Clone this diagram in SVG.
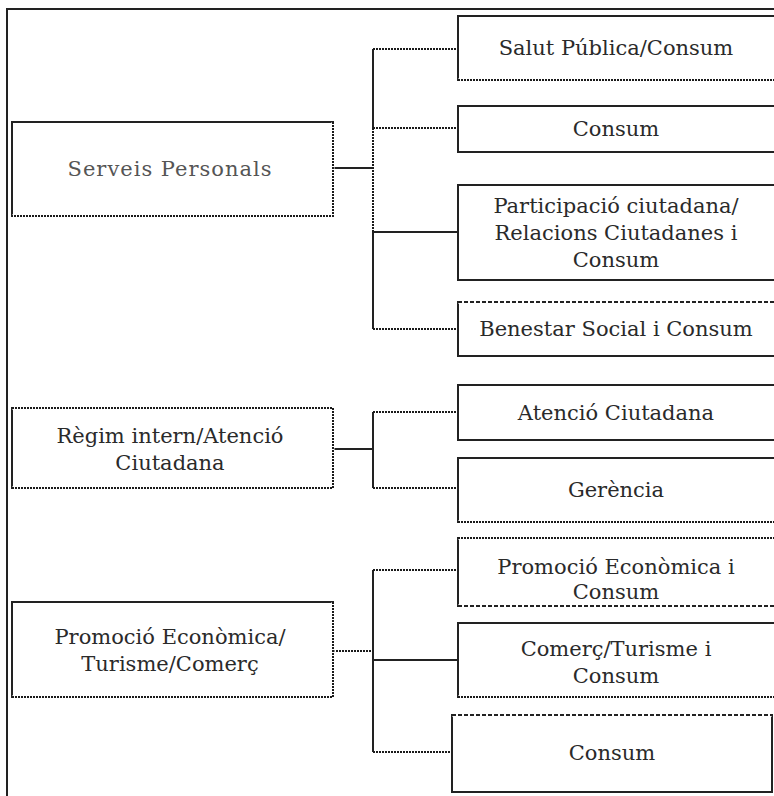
<svg xmlns="http://www.w3.org/2000/svg" width="774" height="796" viewBox="0 0 774 796">
<style>
.box{fill:#fff;stroke:#222;stroke-width:2}
.t{font-family:"DejaVu Serif","Liberation Serif",serif;font-size:21px;fill:#2a2a2a;text-anchor:middle}
.c{fill:none;stroke:#222;stroke-width:2}
.dot{fill:none;stroke:#1a1a1a;stroke-width:2;stroke-dasharray:2 1}
.dash{fill:none;stroke:#222;stroke-width:2;stroke-dasharray:4 2}
.wipe{fill:none;stroke:#fff;stroke-width:3}
</style>
<rect width="774" height="796" fill="#fff"/>
<path class="c" d="M7,796 V9 H774" stroke-width="1.5"/>
<g id="connectors">
<path class="c" d="M333,168 H373"/>
<path class="c" d="M373,49 V128 M373,232 V329"/>
<path class="dot" d="M373,128 V232"/>
<path class="dot" d="M373,49 H458"/>
<path class="dot" d="M373,128 H458" stroke-width="3"/>
<path class="c" d="M373,232 H458"/>
<path class="dot" d="M373,329 H458"/>
<path class="c" d="M333,449 H373"/>
<path class="c" d="M373,412 V488"/>
<path class="dot" d="M373,412 H458"/>
<path class="dot" d="M373,488 H458"/>
<path class="dot" d="M333,651 H373" stroke-width="3"/>
<path class="c" d="M373,570 V752"/>
<path class="dot" d="M373,570 H458" stroke-width="3"/>
<path class="c" d="M373,660 H458"/>
<path class="dot" d="M373,752 H452"/>
</g>
<g id="n-serveis">
<rect class="box" x="12" y="122" width="321" height="94"/>
<path class="wipe" d="M333,122 V216 H12"/>
<path class="dot" d="M333,122 V216 H12"/>
<text class="t" x="170" y="176" style="fill:#555;letter-spacing:1px">Serveis Personals</text>
</g>
<g id="n-salut">
<rect class="box" x="458" y="16" width="320" height="64"/>
<path class="wipe" d="M458,80 H778"/>
<path class="dot" d="M458,80 H778"/>
<text class="t" x="616" y="55">Salut Pública/Consum</text>
</g>
<g id="n-consum1">
<rect class="box" x="458" y="106" width="320" height="46"/>
<text class="t" x="616" y="136">Consum</text>
</g>
<g id="n-particip">
<rect class="box" x="458" y="185" width="320" height="95"/>
<text class="t" x="616" y="213">Participació ciutadana/</text>
<text class="t" x="616" y="240">Relacions Ciutadanes i</text>
<text class="t" x="616" y="267">Consum</text>
</g>
<g id="n-benestar">
<rect class="box" x="458" y="302" width="320" height="54"/>
<path class="wipe" d="M458,302 H778"/>
<path class="dash" d="M458,302 H778"/>
<text class="t" x="616" y="336">Benestar Social i Consum</text>
</g>
<g id="n-regim">
<rect class="box" x="12" y="408" width="321" height="80"/>
<path class="wipe" d="M12,408 H333 V488 H12"/>
<path class="dot" d="M12,408 H333 V488 H12"/>
<text class="t" x="170" y="443">Règim intern/Atenció</text>
<text class="t" x="170" y="470">Ciutadana</text>
</g>
<g id="n-atencio">
<rect class="box" x="458" y="385" width="320" height="55"/>
<text class="t" x="616" y="420">Atenció Ciutadana</text>
</g>
<g id="n-gerencia">
<rect class="box" x="458" y="458" width="320" height="64"/>
<path class="wipe" d="M458,522 H778"/>
<path class="dot" d="M458,522 H778"/>
<text class="t" x="616" y="497">Gerència</text>
</g>
<g id="n-promocio">
<rect class="box" x="12" y="602" width="321" height="95"/>
<path class="wipe" d="M333,602 V697 H12"/>
<path class="dot" d="M333,602 V697 H12"/>
<text class="t" x="170" y="644">Promoció Econòmica/</text>
<text class="t" x="170" y="671">Turisme/Comerç</text>
</g>
<g id="n-promocio-consum">
<rect class="box" x="458" y="538" width="320" height="68"/>
<path class="wipe" d="M458,538 H778 M458,606 H778"/>
<path class="dot" d="M458,538 H778"/>
<path class="dash" d="M458,606 H778"/>
<text class="t" x="616" y="574">Promoció Econòmica i</text>
<text class="t" x="616" y="599">Consum</text>
</g>
<g id="n-comerc">
<rect class="box" x="458" y="623" width="320" height="74"/>
<path class="wipe" d="M458,697 H778"/>
<path class="dot" d="M458,697 H778"/>
<text class="t" x="616" y="656">Comerç/Turisme i</text>
<text class="t" x="616" y="683">Consum</text>
</g>
<g id="n-consum2">
<rect class="box" x="452" y="715" width="320" height="77"/>
<path class="wipe" d="M452,715 H772"/>
<path class="dash" d="M452,715 H772"/>
<text class="t" x="612" y="760">Consum</text>
</g>
</svg>
